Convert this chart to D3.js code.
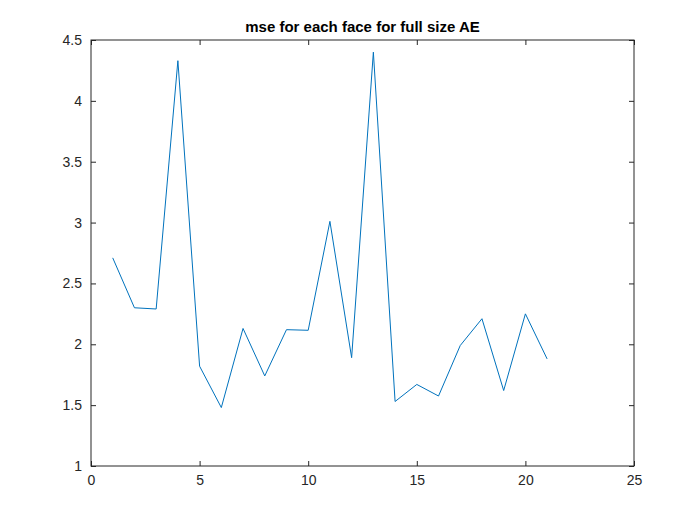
<!DOCTYPE html>
<html>
<head>
<meta charset="utf-8">
<script src="https://cdn.jsdelivr.net/npm/d3@7"></script>
<style>
  body { margin: 0; background: #fff; }
  text { font-family: "Liberation Sans", Arial, sans-serif; }
</style>
</head>
<body>
<script>
// mse per face
var faces = d3.range(1, 22);
var mse = [2.71, 2.30, 2.29, 4.33, 1.82, 1.48, 2.13, 1.74, 2.12, 2.115, 3.01,
           1.89, 4.40, 1.53, 1.67, 1.575, 1.99, 2.21, 1.62, 2.25, 1.88];
var xTicks = [0, 5, 10, 15, 20, 25];
var yTicks = [1, 1.5, 2, 2.5, 3, 3.5, 4, 4.5];

var width = 700, height = 525;
var m = { left: 91, right: 66, top: 40, bottom: 59 };

var svg = d3.select('body').append('svg')
  .attr('width', width).attr('height', height);

var x = d3.scaleLinear().domain([0, 25]).range([m.left, width - m.right]);
var y = d3.scaleLinear().domain([1, 4.5]).range([height - m.bottom, m.top]);

var tickLen = 5;
function styleAxis(g) {
  g.select('.domain').remove();
  g.selectAll('line').attr('stroke', '#262626');
  g.selectAll('text').attr('fill', '#262626').style('font-size', '14px');
}

svg.append('g')
  .attr('transform', 'translate(0,' + (height - m.bottom) + ')')
  .call(d3.axisBottom(x).tickValues(xTicks).tickSize(-tickLen).tickPadding(9))
  .call(styleAxis);
svg.append('g')
  .attr('transform', 'translate(0,' + m.top + ')')
  .call(d3.axisTop(x).tickValues(xTicks).tickSize(-tickLen).tickFormat(''))
  .call(styleAxis);
svg.append('g')
  .attr('transform', 'translate(' + m.left + ',0)')
  .call(d3.axisLeft(y).tickValues(yTicks).tickSize(-tickLen).tickPadding(9).tickFormat(d3.format('')))
  .call(styleAxis);
svg.append('g')
  .attr('transform', 'translate(' + (width - m.right) + ',0)')
  .call(d3.axisRight(y).tickValues(yTicks).tickSize(-tickLen).tickFormat(''))
  .call(styleAxis);

svg.append('rect')
  .attr('x', m.left).attr('y', m.top)
  .attr('width', width - m.left - m.right)
  .attr('height', height - m.top - m.bottom)
  .attr('fill', 'none').attr('stroke', '#262626').attr('stroke-width', 1);

var line = d3.line()
  .x(function(d, i) { return x(faces[i]); })
  .y(function(d) { return y(d); });

svg.append('path')
  .datum(mse)
  .attr('d', line)
  .attr('fill', 'none')
  .attr('stroke', '#0072bd')
  .attr('stroke-width', 1);

svg.append('text')
  .attr('x', (m.left + width - m.right) / 2)
  .attr('y', 32)
  .attr('text-anchor', 'middle')
  .style('font-size', '15px')
  .style('font-weight', 'bold')
  .text('mse for each face for full size AE');
</script>
</body>
</html>
